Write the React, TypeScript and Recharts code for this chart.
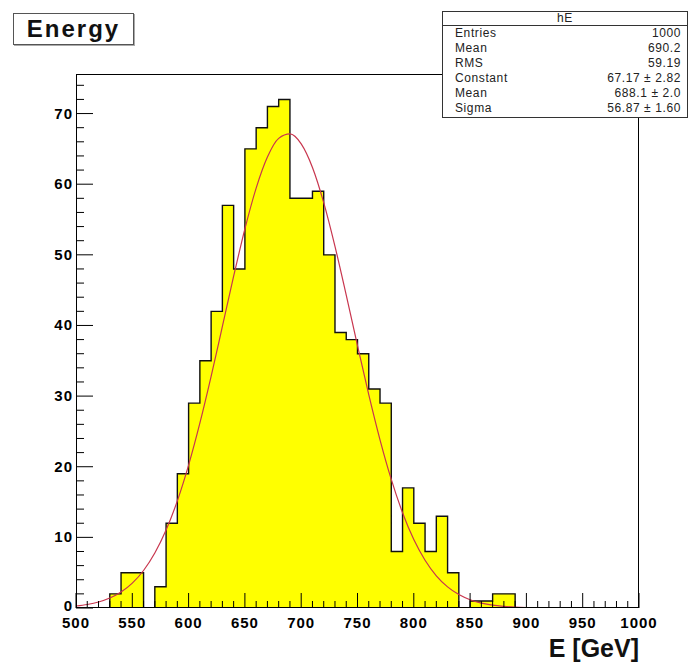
import { ComposedChart, Area, Line, XAxis, YAxis } from 'recharts';

// bin low edges in GeV (10 GeV bins) plus the upper edge 1000
const edges = [
  500, 510, 520, 530, 540, 550, 560, 570, 580, 590,
  600, 610, 620, 630, 640, 650, 660, 670, 680, 690,
  700, 710, 720, 730, 740, 750, 760, 770, 780, 790,
  800, 810, 820, 830, 840, 850, 860, 870, 880, 890,
  900, 910, 920, 930, 940, 950, 960, 970, 980, 990,
  1000,
];

// entries per bin
const counts = [
  0, 0, 0, 2, 5, 5, 0, 3, 12, 19,
  29, 35, 42, 57, 48, 65, 68, 71, 72, 58,
  58, 59, 50, 39, 38, 36, 31, 29, 8, 17,
  12, 8, 13, 5, 0, 1, 1, 2, 2, 0,
  0, 0, 0, 0, 0, 0, 0, 0, 0, 0,
];

// gaussian fit curve, sampled at each bin edge
const fitCurve = [
  0.28, 0.5, 0.85, 1.41, 2.26, 3.52, 5.31, 7.78, 11.03, 15.17,
  20.23, 26.16, 32.79, 39.86, 46.97, 53.67, 59.45, 63.85, 66.49, 67.13,
  65.71, 62.37, 57.39, 51.2, 44.29, 37.15, 30.21, 23.81, 18.2, 13.49,
  9.69, 6.76, 4.56, 2.99, 1.9, 1.17, 0.7, 0.4, 0.23, 0.12,
  0.06, 0.03, 0.01, 0.01, 0, 0, 0, 0, 0, 0,
  0,
];

const yTicks = [
  0, 2, 4, 6, 8, 10, 12, 14, 16, 18, 20, 22, 24, 26, 28, 30, 32, 34, 36,
  38, 40, 42, 44, 46, 48, 50, 52, 54, 56, 58, 60, 62, 64, 66, 68, 70, 72, 74,
];

const statsRows = [
  ['Entries', '1000'],
  ['Mean', '690.2'],
  ['RMS', '59.19'],
  ['Constant', '67.17 ± 2.82'],
  ['Mean', '688.1 ± 2.0'],
  ['Sigma', '56.87 ± 1.60'],
];

const FONT = '"Liberation Sans", Arial, Helvetica, sans-serif';

const tableData = edges.map((e, i) => ({
  e,
  count: counts[i] ?? 0,
  fit: fitCurve[i],
}));

const XTick = ({ x, y, payload }: any) => {
  const major = payload.value % 50 === 0;
  return (
    <g>
      <line x1={x} y1={y} x2={x} y2={y - (major ? 15 : 7)} stroke="#000" strokeWidth={1} />
      {major && (
        <text x={x} y={y + 20} textAnchor="middle" fontFamily={FONT} fontWeight="bold"
              fontSize={15} letterSpacing={1} fill="#000">
          {payload.value}
        </text>
      )}
    </g>
  );
};

const YTick = ({ x, y, payload }: any) => {
  const major = payload.value % 10 === 0;
  // the zero label sits a little higher so it clears the x labels
  const dy = payload.value === 0 ? 3 : 5;
  return (
    <g>
      <line x1={x} y1={y} x2={x + (major ? 17 : 8)} y2={y} stroke="#000" strokeWidth={1} />
      {major && (
        <text x={x - 3} y={y + dy} textAnchor="end" fontFamily={FONT} fontWeight="bold"
              fontSize={15} letterSpacing={1} fill="#000">
          {payload.value}
        </text>
      )}
    </g>
  );
};

export default function App() {
  return (
    <div style={{ position: 'absolute', left: 0, top: 0, width: 689, height: 669, background: '#fff', fontFamily: FONT }}>
      <ComposedChart width={689} height={669} data={tableData}
                     margin={{ top: 74, right: 50, bottom: 0, left: 0 }}>
        <XAxis dataKey="e" type="number" domain={[500, 1000]} ticks={edges}
               axisLine={false} tickLine={false} tickSize={0} tickMargin={0}
               height={61} interval={0} tick={<XTick />} allowDataOverflow />
        <YAxis type="number" domain={[0, 75.6]} ticks={yTicks}
               axisLine={false} tickLine={false} tickSize={0} tickMargin={0}
               width={76} interval={0} tick={<YTick />} allowDataOverflow />

        {/* histogram as a filled step outline */}
        <Area dataKey="count" type="stepAfter" fill="#ffff00" fillOpacity={1}
              stroke="#111" strokeWidth={1.4} isAnimationActive={false} dot={false} activeDot={false} />

        {/* gaussian fit */}
        <Line dataKey="fit" type="monotone" stroke="#c8364e" strokeWidth={1.2}
              dot={false} activeDot={false} isAnimationActive={false} />
      </ComposedChart>

      {/* frame */}
      <div style={{ position: 'absolute', left: 76, top: 74, width: 563, height: 534, border: '1px solid #000', boxSizing: 'border-box', pointerEvents: 'none' }} />

      {/* title box */}
      <div style={{
        position: 'absolute', left: 13, top: 13, width: 121, height: 32, boxSizing: 'border-box',
        border: '1px solid #555', boxShadow: '1px 1px 0 #aaa', background: '#fff',
        display: 'flex', alignItems: 'center', justifyContent: 'center',
        fontWeight: 'bold', fontSize: 24, letterSpacing: 2, color: '#111',
      }}>
        Energy
      </div>

      {/* stats box */}
      <div style={{
        position: 'absolute', left: 442, top: 11, width: 246, height: 107, boxSizing: 'border-box',
        border: '1px solid #333', background: '#fff', fontSize: 12, letterSpacing: 0.6, color: '#222',
      }}>
        <div style={{ height: 13, lineHeight: '13px', textAlign: 'center', borderBottom: '1px solid #333' }}>hE</div>
        {statsRows.map(([k, v], i) => (
          <div key={i} style={{ display: 'flex', justifyContent: 'space-between', height: 15, lineHeight: '15px', padding: '0 6px 0 12px' }}>
            <span>{k}</span>
            <span>{v}</span>
          </div>
        ))}
      </div>

      {/* x axis title */}
      <div style={{ position: 'absolute', right: 50, top: 634, fontWeight: 'bold', fontSize: 25, lineHeight: '28px', color: '#111' }}>
        E [GeV]
      </div>
    </div>
  );
}
